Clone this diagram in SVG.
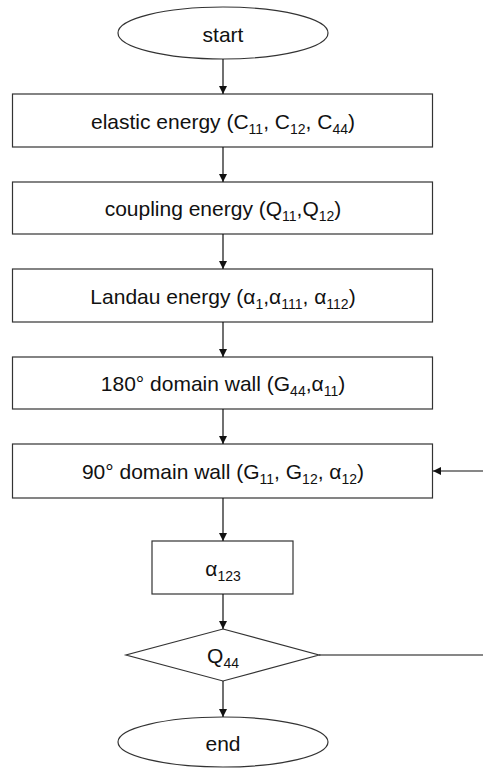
<svg xmlns="http://www.w3.org/2000/svg" width="483" height="769" viewBox="0 0 483 769">
<style>
.s{fill:#fff;stroke:#333;stroke-width:1.2}
.c{fill:none;stroke:#111;stroke-width:1.2}
text{font-family:"Liberation Sans",Arial,sans-serif;font-size:21px;fill:#111;text-anchor:middle}
.sub{font-size:14px}
</style>
<defs>
<marker id="ah" viewBox="0 0 10 10" refX="10" refY="5" markerWidth="8" markerHeight="9" markerUnits="userSpaceOnUse" orient="auto">
<path d="M0,0 L10,5 L0,10 z" fill="#111"/>
</marker>
</defs>
<g id="start"><ellipse class="s" cx="223" cy="33" rx="105" ry="26"/><text x="223" y="42">start</text></g>
<g id="elastic"><rect class="s" x="12.5" y="94" width="420" height="53"/><text x="223" y="129">elastic energy (C<tspan class="sub" dy="5">11</tspan><tspan dy="-5">, C</tspan><tspan class="sub" dy="5">12</tspan><tspan dy="-5">, C</tspan><tspan class="sub" dy="5">44</tspan><tspan dy="-5">)</tspan></text></g>
<g id="coupling"><rect class="s" x="12.5" y="182" width="420" height="52"/><text x="223" y="216">coupling energy (Q<tspan class="sub" dy="5">11</tspan><tspan dy="-5">,Q</tspan><tspan class="sub" dy="5">12</tspan><tspan dy="-5">)</tspan></text></g>
<g id="landau"><rect class="s" x="12.5" y="269" width="420" height="53"/><text x="223" y="304">Landau energy (α<tspan class="sub" dy="5">1</tspan><tspan dy="-5">,α</tspan><tspan class="sub" dy="5">111</tspan><tspan dy="-5">,  α</tspan><tspan class="sub" dy="5">112</tspan><tspan dy="-5">)</tspan></text></g>
<g id="wall180"><rect class="s" x="12.5" y="357" width="420" height="52"/><text x="223" y="391">180° domain wall (G<tspan class="sub" dy="5">44</tspan><tspan dy="-5">,α</tspan><tspan class="sub" dy="5">11</tspan><tspan dy="-5">)</tspan></text></g>
<g id="wall90"><rect class="s" x="12.5" y="444" width="420" height="54"/><text x="223" y="479">90° domain wall (G<tspan class="sub" dy="5">11</tspan><tspan dy="-5">, G</tspan><tspan class="sub" dy="5">12</tspan><tspan dy="-5">, α</tspan><tspan class="sub" dy="5">12</tspan><tspan dy="-5">)</tspan></text></g>
<g id="a123"><rect class="s" x="152" y="541" width="141" height="53"/><text x="223" y="576">α<tspan class="sub" dy="5">123</tspan></text></g>
<g id="q44"><polygon class="s" points="223,629 319,655 223,681 126,655"/><text x="223" y="663">Q<tspan class="sub" dy="5">44</tspan></text></g>
<g id="end"><ellipse class="s" cx="223" cy="742" rx="105" ry="25"/><text x="223" y="751">end</text></g>
<g id="connectors">
<line class="c" x1="223" y1="59" x2="223" y2="94" marker-end="url(#ah)"/>
<line class="c" x1="223" y1="147" x2="223" y2="182" marker-end="url(#ah)"/>
<line class="c" x1="223" y1="234" x2="223" y2="269" marker-end="url(#ah)"/>
<line class="c" x1="223" y1="322" x2="223" y2="357" marker-end="url(#ah)"/>
<line class="c" x1="223" y1="409" x2="223" y2="444" marker-end="url(#ah)"/>
<line class="c" x1="223" y1="498" x2="223" y2="541" marker-end="url(#ah)"/>
<line class="c" x1="223" y1="594" x2="223" y2="629" marker-end="url(#ah)"/>
<line class="c" x1="223" y1="681" x2="223" y2="717" marker-end="url(#ah)"/>
<line class="c" x1="319" y1="655" x2="483" y2="655"/>
<line class="c" x1="483" y1="471" x2="433" y2="471" marker-end="url(#ah)"/>
</g>
</svg>
